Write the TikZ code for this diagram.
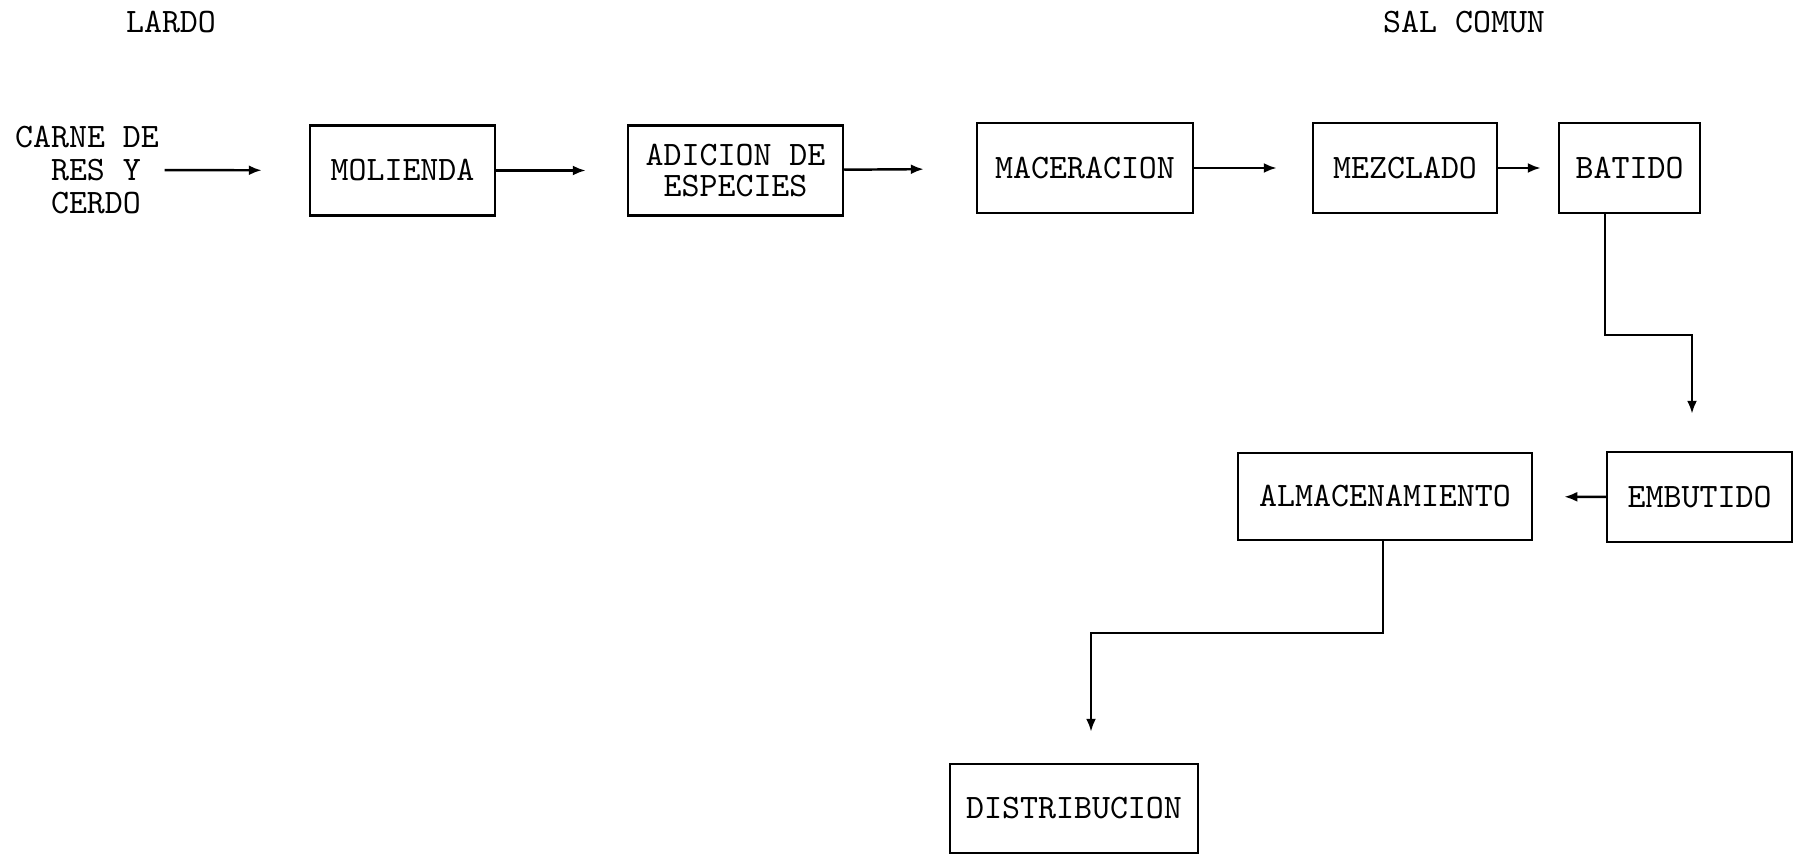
\documentclass[tikz,border=0pt]{standalone}
\usepackage{tikz}
\usetikzlibrary{arrows.meta,calc,positioning}

\begin{document}
\begin{tikzpicture}[scale=1,
  every node/.style={font=\ttfamily\fontsize{9.75}{8.6}\selectfont},
  caja/.style={draw,line width=0.7pt,inner sep=0pt,minimum height=0.9cm},
  flecha/.style={line width=0.7pt,-{Latex[length=1.3mm,width=1mm]}}]
  \useasboundingbox (0,0) rectangle (17.99,-8.55);
  \node (lardo) at (1.71,-0.22) {LARDO};
  \node (sal) at (14.64,-0.22) {SAL COMUN};
  \node[align=left,inner sep=0.05cm,font=\ttfamily\fontsize{9.75}{9.3}\selectfont] (carne) at (0.87,-1.70)
    {CARNE DE\\\hphantom{CA}RES Y\\\hphantom{CA}CERDO};
  \node[caja,minimum width=1.85cm] (molienda) at (4.025,-1.705) {MOLIENDA};
  \node[caja,minimum width=2.15cm,align=center] (adicion) at (7.355,-1.705) {ADICION DE\\ESPECIES};
  \node[caja,minimum width=2.16cm] (maceracion) at (10.85,-1.68) {MACERACION};
  \node[caja,minimum width=1.84cm] (mezclado) at (14.05,-1.68) {MEZCLADO};
  \node[caja,minimum width=1.41cm] (batido) at (16.295,-1.68) {BATIDO};
  \node[caja,minimum width=1.85cm] (embutido) at (16.995,-4.97) {EMBUTIDO};
  \node[caja,minimum width=2.94cm,minimum height=0.87cm] (almacen) at (13.85,-4.965) {ALMACENAMIENTO};
  \node[caja,minimum width=2.48cm,minimum height=0.89cm] (distrib) at (10.74,-8.085) {DISTRIBUCION};
  % codos de las lineas
  \coordinate (codo1) at (16.05,-3.35);
  \coordinate (codo2) at (16.92,-3.35);
  \coordinate (codo3) at (13.83,-6.33);
  \coordinate (codo4) at (10.91,-6.33);
  \draw[flecha,shorten >=0.47cm] (carne) -- (molienda);
  \draw[flecha,shorten >=0.41cm] (molienda) -- (adicion);
  \draw[flecha,shorten >=0.52cm] (adicion) -- (maceracion);
  \draw[flecha,shorten >=0.35cm] (maceracion) -- (mezclado);
  \draw[flecha,shorten >=0.17cm] (mezclado) -- (batido);
  \draw[flecha,shorten >=0.37cm] (batido.south -| codo1) -- (codo1) -- (codo2) -- (embutido.north -| codo2);
  \draw[flecha,shorten >=0.31cm] (embutido) -- (almacen);
  \draw[flecha,shorten >=0.31cm] (almacen.south -| codo3) -- (codo3) -- (codo4) -- (distrib.north -| codo4);
\end{tikzpicture}
\end{document}
